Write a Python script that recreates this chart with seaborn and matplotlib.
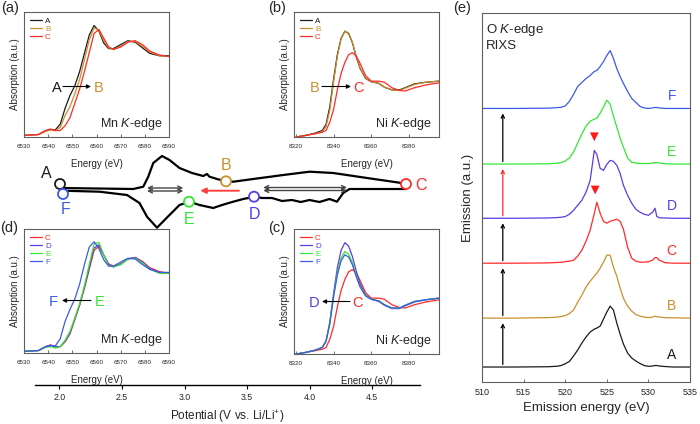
import numpy as np
import pandas as pd
import matplotlib
matplotlib.use("Agg")
import matplotlib.pyplot as plt
from matplotlib.patches import FancyArrowPatch
import seaborn as sns

# ---------------- data ----------------
COL = {'A': '#1a1a1a', 'B': '#c9902c', 'C': '#ff2a2a',
       'D': '#5a3ce0', 'E': '#33e833', 'F': '#3a5ae8'}

# Mn K-edge XANES
MN_EV = [6530, 6536, 6539, 6541, 6543, 6545, 6547, 6549, 6551, 6553, 6555, 6557,
         6559, 6561, 6563, 6565, 6567, 6570, 6573, 6576, 6579, 6582, 6586, 6590]
MN_A = [0.00, 0.01, 0.06, 0.07, 0.07, 0.14, 0.34, 0.50, 0.62, 0.80, 1.03, 1.26,
        1.38, 1.31, 1.16, 1.09, 1.09, 1.14, 1.19, 1.17, 1.10, 1.03, 1.00, 1.00]
MN_B = [0.00, 0.01, 0.05, 0.07, 0.06, 0.10, 0.25, 0.36, 0.52, 0.70, 0.95, 1.20,
        1.35, 1.32, 1.19, 1.10, 1.08, 1.12, 1.18, 1.18, 1.12, 1.05, 1.00, 0.99]
MN_C = [0.00, 0.01, 0.06, 0.08, 0.06, 0.06, 0.12, 0.22, 0.40, 0.58, 0.80, 1.04,
        1.28, 1.33, 1.22, 1.11, 1.08, 1.11, 1.17, 1.19, 1.14, 1.06, 1.01, 0.99]
MN_D = [0.00, 0.01, 0.06, 0.08, 0.06, 0.06, 0.13, 0.23, 0.41, 0.59, 0.81, 1.06,
        1.31, 1.35, 1.22, 1.10, 1.07, 1.10, 1.17, 1.19, 1.13, 1.05, 1.00, 0.99]
MN_E = [0.00, 0.01, 0.05, 0.06, 0.04, 0.06, 0.14, 0.25, 0.42, 0.60, 0.83, 1.10,
        1.36, 1.38, 1.22, 1.09, 1.07, 1.10, 1.17, 1.18, 1.12, 1.04, 0.99, 0.99]
MN_F = [0.00, 0.01, 0.06, 0.07, 0.07, 0.16, 0.38, 0.53, 0.66, 0.85, 1.10, 1.32,
        1.39, 1.30, 1.16, 1.08, 1.08, 1.13, 1.18, 1.17, 1.10, 1.04, 1.00, 1.00]
MN_TICKS = [6530, 6540, 6550, 6560, 6570, 6580, 6590]

# Ni K-edge XANES
NI_EV = [8320, 8325, 8330, 8334, 8336, 8338, 8340, 8342, 8344, 8346, 8348, 8350,
         8352, 8354, 8357, 8360, 8364, 8367, 8371, 8375, 8378, 8383, 8389, 8396]
NI_A = [-0.02, 0.01, 0.05, 0.10, 0.21, 0.53, 1.03, 1.48, 1.78, 1.91, 1.87, 1.70,
        1.45, 1.24, 1.05, 0.99, 0.96, 0.89, 0.84, 0.84, 0.88, 0.95, 0.98, 1.00]
NI_B = [-0.02, 0.01, 0.04, 0.08, 0.17, 0.47, 0.98, 1.45, 1.77, 1.91, 1.88, 1.71,
        1.46, 1.25, 1.06, 0.99, 0.96, 0.89, 0.84, 0.83, 0.87, 0.94, 0.98, 1.00]
NI_C = [-0.02, 0.01, 0.04, 0.07, 0.10, 0.25, 0.48, 0.84, 1.14, 1.34, 1.48, 1.52,
        1.46, 1.33, 1.10, 1.00, 1.00, 0.98, 0.88, 0.83, 0.82, 0.88, 0.93, 0.97]
NI_D = [-0.02, 0.01, 0.05, 0.10, 0.22, 0.56, 1.08, 1.55, 1.87, 2.01, 1.95, 1.76,
        1.50, 1.27, 1.06, 0.98, 0.94, 0.87, 0.81, 0.81, 0.86, 0.93, 0.97, 1.00]
NI_E = [-0.02, 0.01, 0.05, 0.10, 0.21, 0.54, 1.04, 1.46, 1.73, 1.85, 1.80, 1.65,
        1.42, 1.22, 1.05, 0.98, 0.95, 0.88, 0.82, 0.82, 0.87, 0.94, 0.97, 1.00]
NI_F = [-0.02, 0.01, 0.05, 0.10, 0.21, 0.53, 1.02, 1.42, 1.68, 1.79, 1.75, 1.61,
        1.40, 1.21, 1.04, 0.98, 0.95, 0.88, 0.82, 0.82, 0.87, 0.94, 0.97, 1.00]
NI_TICKS = [8320, 8340, 8360, 8380]

# dQ/dV-like charge/discharge profile
POT_TICKS = [2.0, 2.5, 3.0, 3.5, 4.0, 4.5]
CH_V = [2.02, 2.30, 2.59, 2.67, 2.71, 2.75, 2.82, 2.88, 2.96, 3.06, 3.15, 3.18,
        3.20, 3.26, 3.34, 3.39, 3.55, 3.79, 4.00, 4.19, 4.46, 4.72, 4.77]
CH_Q = [1.0, 0.5, 0.0, 2.3, 12.3, 26, 33, 29, 21, 16, 13, 15,
        12.3, 10, 7.5, 7.3, 10, 14, 17.3, 16, 11, 6.3, 5]
DC_V = [4.77, 4.32, 4.27, 4.22, 4.16, 4.08, 4.00, 3.93, 3.86, 3.78, 3.70, 3.62,
        3.56, 3.47, 3.39, 3.30, 3.23, 3.12, 3.04, 2.96, 2.88, 2.78, 2.70, 2.64,
        2.54, 2.32, 2.03]
DC_Q = [0, 0, -4, -12.7, -10, -13, -11, -13, -11, -12, -9, -9,
        -7.7, -10, -12.7, -16, -19, -16, -12.7, -16, -26, -38.7, -27.7, -14,
        -6, -2.7, -1.7]
STATE_NAMES = ['A', 'B', 'C', 'D', 'E', 'F']
STATE_V = [2.004, 3.332, 4.772, 3.556, 3.036, 2.028]
STATE_Q = [5, 7.7, 5, -7.7, -12.7, -5]

# O K-edge RIXS
RIXS_EV = [510, 514, 518, 519, 519.5, 520, 520.5, 521, 521.5, 522, 522.5, 523,
           523.5, 523.8, 524.2, 524.6, 525, 525.4, 525.8, 526.2, 526.6, 527,
           527.5, 528, 528.5, 529, 529.5, 530, 530.5, 530.8, 531, 531.3, 532, 533, 535]
RIXS_A = [0, 0, 0.3, 0.8, 1.5, 3.3, 5.5, 11, 17, 24, 30, 35, 38, 39, 41, 48, 55, 61,
          57, 44, 33, 23, 14, 9, 6, 3.5, 1.5, 0.7, 1, 1.5, 1.5, 1, 0.5, 0, 0]
RIXS_B = [0, 0, 0.5, 1, 1.5, 2.5, 4.5, 8, 16, 23, 31, 37, 42, 45, 50, 56, 63, 63,
          51, 42, 30, 20, 12, 7, 3.5, 2, 1, 0.5, 1, 2, 1.5, 1, 0.5, 0.3, 0]
RIXS_C = [0, 0, 0.3, 0.7, 1, 1.5, 2, 3, 7, 13, 22, 33, 50, 61, 50, 42, 40, 42,
          43, 44, 42, 34, 16, 5, 2, 1, 1, 1.5, 3, 5.5, 5.7, 3, 0.5, 0, 0]
RIXS_D = [0, 0, 0.3, 0.7, 1, 1.7, 4, 8, 13, 18, 26, 38, 68, 64, 50, 48, 54, 58,
          57, 53, 45, 33, 23, 15, 9, 6, 4, 3, 6, 10, 2, 0.5, 0.3, 0, 0]
RIXS_E = [0, 0, 0.3, 0.8, 1.5, 3, 6, 12, 21, 30, 38, 43, 45, 46, 51, 57, 64, 60,
          48, 37, 26, 17, 6, 1.7, 1, 0.5, 0.5, 0.5, 1, 1.5, 1.5, 1, 0.3, 0, 0]
RIXS_F = [0, 0, 0.3, 0.8, 1.2, 2.5, 7, 14, 22, 26, 30, 33, 37, 38, 42, 47, 53, 58,
          50, 40, 32, 25, 17, 10, 6, 2, 0.5, 0, 0.5, 1, 1, 0.5, 0, 0, 0]
RIXS_OFFSET = {'A': 15, 'B': 64, 'C': 119, 'D': 164, 'E': 218.3, 'F': 274}
RIXS_TICKS = [510, 515, 520, 525, 530, 535]
MARK_EV = [523.5, 523.6]
MARK_Y = [245.6, 192.3]

# ---------------- style ----------------
sns.set_theme(style='ticks')
plt.rcParams['font.family'] = ['Liberation Sans', 'DejaVu Sans']
plt.rcParams['mathtext.fontset'] = 'custom'
plt.rcParams['mathtext.rm'] = 'Liberation Sans'
plt.rcParams['mathtext.it'] = 'Liberation Sans:italic'

W, H = 700, 424
fig = plt.figure(figsize=(7, 4.24), dpi=100)


def rect(l, t, r, b):
    return [l / W, 1 - b / H, (r - l) / W, (b - t) / H]


def fp(x, y):
    return (x / W, 1 - y / H)


def fig_arrow(x0, y0, x1, y1, color='black', lw=0.8, ms=6):
    arr = FancyArrowPatch(fp(x0, y0), fp(x1, y1), transform=fig.transFigure,
                          arrowstyle='-|>', color=color, lw=lw,
                          mutation_scale=ms, shrinkA=0, shrinkB=0, zorder=10)
    fig.add_artist(arr)


# ---------------- middle panel: potential profile ----------------
axm = fig.add_axes(rect(35, 150, 420, 385))
axm.patch.set_alpha(0)
sns.lineplot(x=CH_V, y=CH_Q, sort=False, color='black', lw=1.6, ax=axm)
sns.lineplot(x=DC_V, y=DC_Q, sort=False, color='black', lw=1.6, ax=axm)
sns.scatterplot(x=STATE_V, y=STATE_Q, s=52, facecolor='white',
                edgecolor=[COL[n] for n in STATE_NAMES], linewidth=1.3,
                zorder=5, ax=axm)
axm.set_xlim(1.804, 4.884)
axm.set_ylim(-196, 39)
for s in ['left', 'top', 'right']:
    axm.spines[s].set_visible(False)
axm.spines['bottom'].set_linewidth(1.0)
axm.spines['bottom'].set_color('black')
axm.set_yticks([])
axm.set_xticks(POT_TICKS)
axm.set_xticklabels([f'{v:.1f}' for v in POT_TICKS])
axm.tick_params(axis='x', labelsize=6.3, length=3, width=0.8, pad=3, color='black')
axm.set_xlabel('Potential (V vs. Li/Li$^{+}$)', fontsize=8.5, labelpad=4)

lab_pos = {'A': (2.0 - 13 / 125, 16), 'B': (3.332, 24), 'C': (4.772 + 15 / 125, 4),
           'D': (3.556, -25), 'E': (3.036, -30), 'F': (2.05, -20)}
for n, (vx, vy) in lab_pos.items():
    axm.text(vx, vy, n, color=COL[n], fontsize=11.5, ha='center', va='center')

# double arrows
for (v0, v1), ys in [((2.70, 2.99), (1.0, -2.0)), ((3.63, 4.30), (1.5, -1.5))]:
    for yy in ys:
        axm.annotate('', xy=(v1, yy), xytext=(v0, yy),
                     arrowprops=dict(arrowstyle='<->', color='#444444', lw=1.0,
                                     mutation_scale=7, shrinkA=0, shrinkB=0))
axm.annotate('', xy=(3.126, -1.7), xytext=(3.436, -1.7),
             arrowprops=dict(arrowstyle='-|>', color='#ff4040', lw=1.4,
                             mutation_scale=8, shrinkA=0, shrinkB=0))


# ---------------- XANES panels ----------------
def xanes(box, energy, series, xlim, ylim, ticks, edge_text):
    ax = fig.add_axes(rect(*box))
    for n, vals in series:
        sns.lineplot(x=energy, y=vals, color=COL[n], lw=0.9, label=n, ax=ax)
    ax.set_xlim(*xlim)
    ax.set_ylim(*ylim)
    ax.set_xticks(ticks)
    ax.set_xticklabels([str(t) for t in ticks])
    ax.set_yticks([])
    ax.tick_params(axis='x', labelsize=4.5, direction='in', length=2, width=0.6,
                   pad=5, color='#555555')
    for s in ax.spines.values():
        s.set_color('#606060')
        s.set_linewidth(0.8)
    ax.set_xlabel('Energy (eV)', fontsize=7, labelpad=7)
    ax.set_ylabel('Absorption (a.u.)', fontsize=7, labelpad=3)
    ax.legend(loc='upper left', fontsize=5.8, frameon=False, handlelength=1.5,
              handletextpad=0.4, labelspacing=0.02, borderaxespad=0.3,
              labelcolor='linecolor')
    ax.text(0.955, 0.04, edge_text, transform=ax.transAxes, ha='right',
            va='bottom', fontsize=9)
    return ax


xanes((24, 12, 169, 137), MN_EV, [('A', MN_A), ('B', MN_B), ('C', MN_C)],
      (6530, 6590), (-0.021, 1.55), MN_TICKS, 'Mn $K$-edge')
xanes((294, 12, 439, 137), NI_EV, [('A', NI_A), ('B', NI_B), ('C', NI_C)],
      (8319, 8396), (-0.018, 2.26), NI_TICKS, 'Ni $K$-edge')
xanes((24, 229, 169, 353), MN_EV, [('C', MN_C), ('D', MN_D), ('E', MN_E), ('F', MN_F)],
      (6530, 6590), (-0.021, 1.55), MN_TICKS, 'Mn $K$-edge')
xanes((294, 229, 439, 354), NI_EV, [('C', NI_C), ('D', NI_D), ('E', NI_E), ('F', NI_F)],
      (8319, 8396), (-0.018, 2.26), NI_TICKS, 'Ni $K$-edge')

# in-panel transition labels
for (l1, x1, l2, x2, y, ax0, ax1) in [('A', 56.7, 'B', 99, 88, 63, 91),
                                      ('B', 315, 'C', 358.3, 88, 322, 351),
                                      ('F', 53.3, 'E', 99.3, 302, 91, 62),
                                      ('D', 314, 'C', 357.3, 303, 350, 322)]:
    fig.text(*fp(x1, y), l1, color=COL[l1], fontsize=10.5, ha='center', va='center')
    fig.text(*fp(x2, y), l2, color=COL[l2], fontsize=10.5, ha='center', va='center')
    fig_arrow(ax0, y - 1.5, ax1, y - 1.5)

# panel letters
fig.text(*fp(1, 8), '(a)', fontsize=10.5, ha='left', va='center')
fig.text(*fp(277, 8), '(b)', fontsize=10.5, ha='center', va='center')
fig.text(*fp(462, 8), '(e)', fontsize=10.5, ha='center', va='center')
fig.text(*fp(0, 228), '(d)', fontsize=10.5, ha='left', va='center')
fig.text(*fp(277, 228), '(c)', fontsize=10.5, ha='center', va='center')

# ---------------- RIXS panel ----------------
axe = fig.add_axes(rect(482, 13, 690, 382))
for n, vals in [('A', RIXS_A), ('B', RIXS_B), ('C', RIXS_C),
                ('D', RIXS_D), ('E', RIXS_E), ('F', RIXS_F)]:
    yv = np.array(vals) + RIXS_OFFSET[n]
    sns.lineplot(x=RIXS_EV, y=yv, color=COL[n], lw=0.9, ax=axe)
    axe.text(532.8, RIXS_OFFSET[n] + 12, n, color=COL[n], fontsize=10,
             ha='center', va='center')
sns.scatterplot(x=MARK_EV, y=MARK_Y, marker='v', s=40, color='#ff1a1a',
                edgecolor='none', ax=axe, zorder=5)
axe.set_xlim(510, 535)
axe.set_ylim(0, 369.6)
axe.set_xticks(RIXS_TICKS)
axe.set_yticks([])
axe.tick_params(axis='x', labelsize=6.5, direction='in', length=2.5, width=0.6,
                pad=4, color='#555555')
for s in axe.spines.values():
    s.set_color('#606060')
    s.set_linewidth(0.8)
axe.set_xlabel('Emission energy (eV)', fontsize=9.5, labelpad=4)
axe.set_ylabel('Emission (a.u.)', fontsize=9.5, labelpad=6)
axe.text(0.02, 0.975, 'O $K$-edge\nRIXS', transform=axe.transAxes, ha='left',
         va='top', fontsize=9.5, linespacing=1.25)

steps = [('A', 'B', 'black'), ('B', 'C', 'black'), ('C', 'D', 'black'),
         ('D', 'E', '#ff2a2a'), ('E', 'F', 'black')]
for lo, hi, c in steps:
    y0 = RIXS_OFFSET[lo] + 2.5
    y1 = RIXS_OFFSET[hi] - 5
    axe.annotate('', xy=(512.5, y1), xytext=(512.5, y0),
                 arrowprops=dict(arrowstyle='->', color=c, lw=0.9,
                                 mutation_scale=6, shrinkA=0, shrinkB=0))

fig.savefig('out.png', dpi=100)
